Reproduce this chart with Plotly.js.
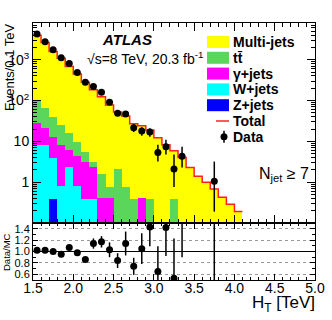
<!DOCTYPE html>
<html><head><meta charset="utf-8">
<script src="https://cdn.plot.ly/plotly-3.0.1.min.js"></script>
<style>html,body{margin:0;padding:0;background:#fff}#chart{width:332px;height:320px}</style>
</head><body><div id="chart"></div>
<script>
// ---- data ----
const binCenters=[1.55,1.65,1.75,1.85,1.95,2.05,2.15,2.25,2.35,2.45,2.55,2.65,2.75,2.85,2.95,3.05,3.15,3.25,3.35,3.45,3.55,3.65,3.75,3.85,3.95,4.05];
const multiJets=[3900,2585,1560,1055,664,440,274,182,123,77,50,41,26.6,23.6,18.6,12.3,8.3,5.5,4.0,2.3,1.4,1.0,0.68,0.43,0.29,0.19];
const ttbar=[74,44,27,16.7,9.7,5.5,2.4,0.8,1.15,0.35,2.1,0.76,0.39,0,0.39,0,0,0.39,0,0,0,0,0,0,0,0];
const gammaJets=[19.7,12.7,9.0,7.5,3.9,3.5,2.8,2.0,0.41,0.41,0,0,0,0.41,0,0,0,0,0,0,0,0,0,0,0,0];
const wJets=[8.3,8.3,3.6,0.8,2.4,0.8,0.39,0.39,0,0,0,0,0,0,0,0,0,0,0,0,0,0,0,0,0,0];
const zJets=[0,0,0.39,0,0,0,0,0,0,0,0,0,0,0,0,0,0,0,0,0,0,0,0,0,0,0];
const binWidth=0.1;

const dataX=[1.55,1.65,1.75,1.85,1.95,2.05,2.15,2.25,2.35,2.45,2.55,2.65,2.75,2.85,2.95,3.05,3.15,3.25,3.35,3.75];
const dataY=[4300,2750,1750,1120,810,490,280,222,160,91,49,47,21.5,18,17,5.3,7.4,2.1,4.3,1.05];
const dataErrUp=[66,52,42,33,28,22,17,15,13,9.5,7,6.9,4.6,4.2,4.1,3.0,3.5,2.7,3.1,2.15];
const dataErrDown=[66,52,42,33,28,22,17,15,13,9.5,7,6.9,4.6,4.2,4.1,2.1,2.6,1.34,2.0,0.86];

const ratioY=[1.02,1.02,1.0,0.95,1.07,0.98,0.86,1.14,1.17,1.03,0.84,1.14,0.74,1.05,1.43,0.65,1.42,0.53,1.7,1.6];
const ratioErr=[0.02,0.02,0.02,0.03,0.03,0.04,0.04,0.09,0.1,0.13,0.13,0.21,0.15,0.27,0.34,0.44,0.5,0.7,0.8,1.6];

const xTickVals=[1.5,2.0,2.5,3.0,3.5,4.0,4.5,5.0];
const xTickText=['1.5','2.0','2.5','3.0','3.5','4.0','4.5','5.0'];
const yTickVals=[1,10,100,1000];
const yTickText=['1','10','10<sup>2</sup>','10<sup>3</sup>'];
const rTickVals=[0.6,0.8,1.0,1.2,1.4];
const rTickText=['0.6','0.8','1.0','1.2','1.4'];

const legendNames=['Multi-jets','tt̄','γ+jets','W+jets','Z+jets','Total','Data'];
const legendColors=['#ffff00','#5ad75a','#ff00ff','#00ffff','#0000ff','#ff2020','#000000'];

// ---- derived ----
const total=binCenters.map((_,i)=>multiJets[i]+ttbar[i]+gammaJets[i]+wJets[i]+zJets[i]);
const stepX=binCenters.map(c=>c-binWidth/2).concat([binCenters[binCenters.length-1]+binWidth/2]);
const stepY=total.concat([total[total.length-1]]);

const FONT='Liberation Sans, Arial, sans-serif';
function bar(name,vals,color){
  return {type:'bar',name:name,x:binCenters,y:vals,width:binWidth,xaxis:'x',yaxis:'y',
    marker:{color:color,line:{width:0}},hoverinfo:'skip',showlegend:false};
}
const traces=[
  bar('Z+jets',zJets,legendColors[4]),
  bar('W+jets',wJets,legendColors[3]),
  bar('γ+jets',gammaJets,legendColors[2]),
  bar('tt̄',ttbar,legendColors[1]),
  bar('Multi-jets',multiJets,legendColors[0]),
  {type:'scatter',mode:'lines',name:'Total',x:stepX,y:stepY,line:{shape:'hv',color:legendColors[5],width:1.5},
   xaxis:'x',yaxis:'y',showlegend:false},
  {type:'scatter',mode:'markers',name:'Data',x:dataX,y:dataY,xaxis:'x',yaxis:'y',showlegend:false,
   marker:{color:'#000',size:7},
   error_y:{type:'data',symmetric:false,array:dataErrUp,arrayminus:dataErrDown,color:'#000',thickness:1.5,width:0}},
  {type:'scatter',mode:'markers',name:'ratio',x:dataX,y:ratioY,xaxis:'x2',yaxis:'y2',showlegend:false,
   marker:{color:'#000',size:7},
   error_y:{type:'data',array:ratioErr,color:'#000',thickness:1.5,width:0}}
];

// ---- layout geometry (pixels -> paper) ----
const W=332,H=320,ML=33,MR=17,MT=23,MB=40;
const PW=W-ML-MR, PH=H-MT-MB;
const px=v=>(v-ML)/PW, py=v=>(H-MB-v)/PH;

// hand-built legend (ROOT style, tight spacing)
const legShapes=[], legAnn=[];
const legTop=42, legStep=15.8;
legendNames.forEach((n,i)=>{
  const yc=legTop+i*legStep;
  if(i<5){
    legShapes.push({type:'rect',xref:'paper',yref:'paper',x0:px(207),x1:px(229),y0:py(yc+6),y1:py(yc-6),
      fillcolor:legendColors[i],line:{width:0}});
  }else if(i===5){
    legShapes.push({type:'line',xref:'paper',yref:'paper',x0:px(216),x1:px(229),y0:py(yc),y1:py(yc),
      line:{color:legendColors[i],width:1.5}});
  }else{
    legShapes.push({type:'line',xref:'paper',yref:'paper',x0:px(224),x1:px(224),y0:py(yc+6),y1:py(yc-6),
      line:{color:'#000',width:1.5}});
    legShapes.push({type:'circle',xref:'paper',yref:'paper',x0:px(220.5),x1:px(227.5),y0:py(yc+3.5),y1:py(yc-3.5),
      fillcolor:'#000',line:{width:0}});
  }
  legAnn.push({text:'<b>'+n+'</b>',xref:'paper',yref:'paper',x:px(231),y:py(yc),xanchor:'left',yanchor:'middle',
    showarrow:false,font:{size:14}});
});

const axLine={showline:true,linecolor:'#000',linewidth:1,mirror:'ticks',ticks:'inside',tickcolor:'#000',zeroline:false,showgrid:false};
const layout={
  width:W,height:H,margin:{l:ML,r:MR,t:MT,b:MB},
  paper_bgcolor:'#fff',plot_bgcolor:'#fff',
  barmode:'stack',bargap:0,
  font:{family:FONT,size:13,color:'#000'},
  showlegend:false,
  xaxis:Object.assign({},axLine,{domain:[0,1],anchor:'y',range:[1.5,5.0],tickvals:xTickVals,showticklabels:false,ticklen:8,
    minor:{ticks:'inside',dtick:0.1,tick0:1.5,ticklen:4,tickcolor:'#000'}}),
  yaxis:Object.assign({},axLine,{domain:[57/257,1],anchor:'x',type:'log',range:[-1,3.9],tickvals:yTickVals,ticktext:yTickText,
    ticklen:8,tickfont:{size:14},
    minor:{ticks:'inside',ticklen:4,tickcolor:'#000',tickvals:[0.2,0.3,0.4,0.5,0.6,0.7,0.8,0.9,2,3,4,5,6,7,8,9,20,30,40,50,60,70,80,90,200,300,400,500,600,700,800,900,2000,3000,4000,5000,6000,7000]}}),
  xaxis2:Object.assign({},axLine,{domain:[0,1],anchor:'y2',matches:'x',range:[1.5,5.0],tickvals:xTickVals,ticktext:xTickText,
    ticklen:6,tickfont:{size:14},ticklabelstandoff:-5,
    minor:{ticks:'inside',dtick:0.1,tick0:1.5,ticklen:3,tickcolor:'#000'}}),
  yaxis2:Object.assign({},axLine,{domain:[0,57/257],anchor:'x2',range:[0.5,1.5],tickvals:rTickVals,ticktext:rTickText,
    ticklen:5,tickfont:{size:11},showgrid:true,gridcolor:'#999',griddash:'dot',gridwidth:1,
    minor:{ticks:'inside',dtick:0.1,ticklen:3,tickcolor:'#000'}}),
  shapes:[{type:'line',xref:'x2 domain',x0:0,x1:1,yref:'y2',y0:1,y1:1,line:{color:'#000',width:1}}].concat(legShapes),
  annotations:[
    {text:'<b><i>ATLAS</i></b>',xref:'paper',yref:'paper',x:px(100),y:py(39),xanchor:'left',yanchor:'middle',showarrow:false,font:{size:15}},
    {text:'√s=8 TeV, 20.3 fb<sup>-1</sup>',xref:'paper',yref:'paper',x:px(85),y:py(58),xanchor:'left',yanchor:'middle',showarrow:false,font:{size:14}},
    {text:'N<sub>jet</sub> ≥ 7',xref:'paper',yref:'paper',x:px(257),y:py(174),xanchor:'left',yanchor:'middle',showarrow:false,font:{size:16}},
    {text:'Events/0.1 TeV',xref:'paper',yref:'paper',x:px(9),y:py(21),xanchor:'center',yanchor:'top',textangle:-90,showarrow:false,font:{size:13}},
    {text:'Data/MC',xref:'paper',yref:'paper',x:px(7),y:py(252),xanchor:'center',yanchor:'middle',textangle:-90,showarrow:false,font:{size:9.5}},
    {text:'H<sub>T</sub> [TeV]',xref:'paper',yref:'paper',x:px(317),y:py(304),xanchor:'right',yanchor:'middle',showarrow:false,font:{size:17}}
  ].concat(legAnn)
};
Plotly.newPlot('chart',traces,layout,{staticPlot:true,displayModeBar:false});
</script></body></html>
